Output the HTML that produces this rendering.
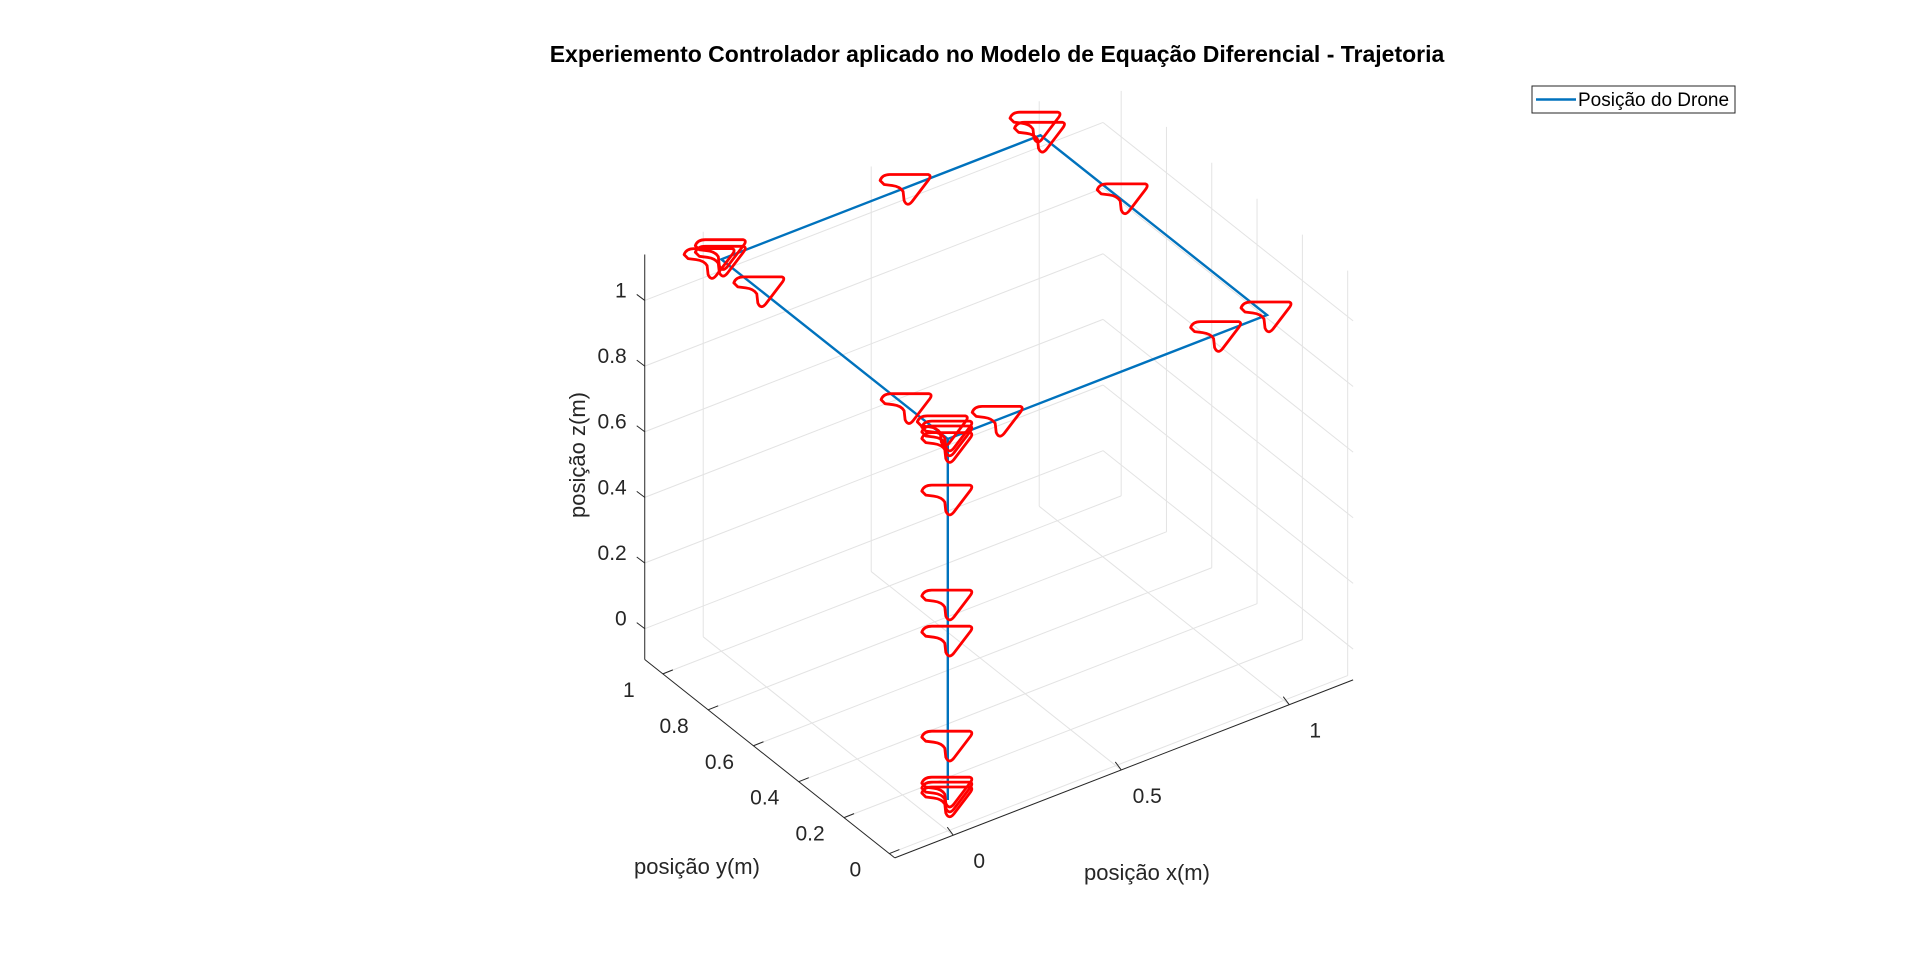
<!DOCTYPE html>
<html><head><meta charset="utf-8"><style>
html,body{margin:0;padding:0;background:#fff;}
svg{display:block;font-family:"Liberation Sans",sans-serif;}
</style></head><body>
<svg id="chart" width="1920" height="963" viewBox="0 0 1920 963">
<rect width="1920" height="963" fill="#fff"/>
<text x="997" y="62" text-anchor="middle" font-size="23" font-weight="bold" fill="#000">Experiemento Controlador aplicado no Modelo de Equação Diferencial - Trajetoria</text>
<g id="grid"></g>
<g id="axes"></g>
<g id="series"></g>
<g id="drones"></g>
<text x="1147" y="880" text-anchor="middle" font-size="22" fill="#262626">posição x(m)</text>
<text x="697" y="874" text-anchor="middle" font-size="22" fill="#262626">posição y(m)</text>
<text x="0" y="0" transform="translate(585,455) rotate(-90)" text-anchor="middle" font-size="22" fill="#262626">posição z(m)</text>
<g>
<rect x="1532" y="86" width="203" height="27" fill="#fff" stroke="#262626" stroke-width="1"/>
<line x1="1536" y1="99.5" x2="1576" y2="99.5" stroke="#0072BD" stroke-width="2.5"/>
<text x="1578" y="106" font-size="19" fill="#000">Posição do Drone</text>
</g>
</svg>
<script>
const xTicks=[0,0.5,1];
const yTicks=[0,0.2,0.4,0.6,0.8,1];
const zTicks=[0,0.2,0.4,0.6,0.8,1];
const xTickLabels=["0","0.5","1"];
const yTickLabels=["0","0.2","0.4","0.6","0.8","1"];
const zTickLabels=["0","0.2","0.4","0.6","0.8","1"];
const xLim=[-0.174,1.19];
const yLim=[-0.024,1.08];
const zLim=[-0.094,1.14];
// trajectory waypoints
const pathX=[0,0,0,0.95,0.95,0];
const pathY=[0,0,1,1,0,0];
const pathZ=[0,1.1,1.1,1.1,1.1,1.1];
// drone marker positions
const droneX=[0,0,0,0,0,0,0,0,0,0,0, 0,0,0,0,-0.02, 0.55, 0.95,0.95,0.96,0.95, 0.8,0.15];
const droneY=[0,0,0,0,0,0,0,0,0,0,0.02, 0.18,0.83,1,1,1.02, 1, 1,1.02,0.65,0, 0,0];
const droneZ=[0,0.015,0.03,0.17,0.49,0.6,0.92,1.08,1.1,1.115,1.12, 1.1,1.1,1.1,1.12,1.09, 1.1, 1.1,1.12,1.1,1.1, 1.1,1.1];

const NS="http://www.w3.org/2000/svg";
const A=[894.8,857.9], EX=[336,-130.5], EY=[-226.5,-179.7], EZ=[0,-328.2];
function proj(x,y,z){const a=x-xLim[0],b=y-yLim[0],c=z-zLim[0];
 return [A[0]+a*EX[0]+b*EY[0]+c*EZ[0], A[1]+a*EX[1]+b*EY[1]+c*EZ[1]];}
function mk(tag,attrs,parent){const e=document.createElementNS(NS,tag);for(const k in attrs)e.setAttribute(k,attrs[k]);parent.appendChild(e);return e;}
function seg(p,q,stroke,w,parent,name){const e=mk('line',{x1:p[0],y1:p[1],x2:q[0],y2:q[1],stroke:stroke,'stroke-width':w},parent);
 
 
 return e;}
const grid=document.getElementById('grid'),axes=document.getElementById('axes'),series=document.getElementById('series'),drones=document.getElementById('drones');
const GC="#e3e3e3";
const [x0,x1]=xLim,[y0,y1]=yLim,[z0,z1]=zLim;
xTicks.forEach(x=>{seg(proj(x,y1,z0),proj(x,y1,z1),GC,1,grid,'grid-x-back');seg(proj(x,y0,z0),proj(x,y1,z0),GC,1,grid,'grid-x-floor');});
yTicks.forEach(y=>{seg(proj(x1,y,z0),proj(x1,y,z1),GC,1,grid,'grid-y-side');seg(proj(x0,y,z0),proj(x1,y,z0),GC,1,grid,'grid-y-floor');});
zTicks.forEach(z=>{seg(proj(x0,y1,z),proj(x1,y1,z),GC,1,grid,'grid-z-back');seg(proj(x1,y0,z),proj(x1,y1,z),GC,1,grid,'grid-z-side');});
const AC="#262626";
seg(proj(x0,y1,z0),proj(x0,y1,z1),AC,1,axes,'z-axis-line');
seg(proj(x0,y0,z0),proj(x0,y1,z0),AC,1,axes,'y-axis-line');
seg(proj(x0,y0,z0),proj(x1,y0,z0),AC,1,axes,'x-axis-line');
function lbl(txt,x,y,anchor,name){const t=mk('text',{x:x,y:y,'text-anchor':anchor,'font-size':21,fill:AC},axes);t.textContent=txt;
 
 }
zTicks.forEach((z,i)=>{const p=proj(x0,y1,z);seg([p[0]-8,p[1]-6],p,AC,1,axes,'z-tick');lbl(zTickLabels[i],p[0]-18,p[1]-3,'end','z-tick-label');});
xTicks.forEach((x,i)=>{const p=proj(x,y0,z0);seg(p,[p[0]-6,p[1]-8],AC,1,axes,'x-tick');lbl(xTickLabels[i],p[0]+26,p[1]+33,'middle','x-tick-label');});
yTicks.forEach((y,i)=>{const p=proj(x0,y,z0);seg(p,[p[0]+10,p[1]-4],AC,1,axes,'y-tick');lbl(yTickLabels[i],p[0]-34,p[1]+23,'middle','y-tick-label');});
let d='';pathX.forEach((x,i)=>{const p=proj(x,pathY[i],pathZ[i]);d+=(i?'L':'M')+p[0].toFixed(1)+','+p[1].toFixed(1);});
const ln=mk('path',{d:d,fill:'none',stroke:'#0072BD','stroke-width':2.4},series);


const shape="M-26,-5 Q-24,-11 -16,-11 L22,-11 Q26,-10 22,-5 L6,16 Q1,22 -2,15 L-3,6 Q-6,1 -14,0 L-22,-1 Z";
droneX.forEach((x,i)=>{const p=proj(x,droneY[i],droneZ[i]);
 const s=mk('path',{d:shape,transform:'translate('+p[0].toFixed(1)+','+(p[1]-2).toFixed(1)+')',fill:'none',stroke:'#ff0000','stroke-width':2.8,'stroke-linejoin':'round'},drones);
 
 });
</script>
</body></html>
